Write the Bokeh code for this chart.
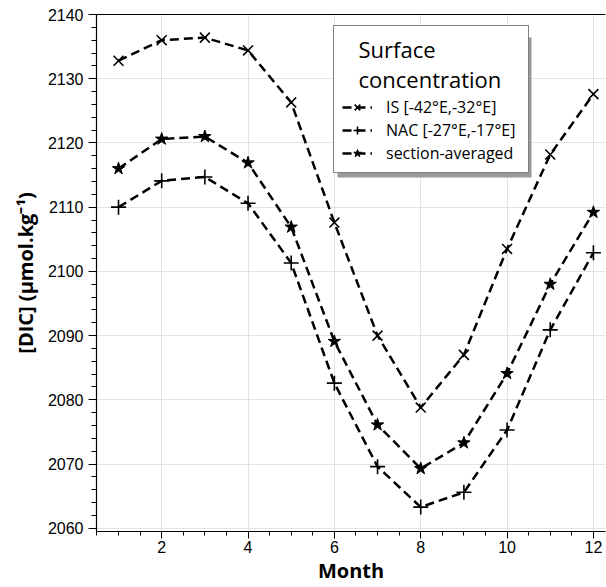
from bokeh.plotting import figure
from bokeh.models import Legend, LegendItem, LinearAxis, Range1d, BoxAnnotation, FixedTicker
from bokeh.embed import file_html
from bokeh.resources import INLINE

months = [1, 2, 3, 4, 5, 6, 7, 8, 9, 10, 11, 12]
is_vals = [2132.8, 2136.0, 2136.4, 2134.4, 2126.3, 2107.6, 2090.0, 2078.8, 2087.0, 2103.5, 2118.2, 2127.6]
nac_vals = [2110.0, 2114.1, 2114.7, 2110.6, 2101.3, 2082.6, 2069.6, 2063.3, 2065.6, 2075.3, 2090.9, 2102.9]
avg_vals = [2116.0, 2120.6, 2121.0, 2116.9, 2106.9, 2089.1, 2076.1, 2069.3, 2073.3, 2084.1, 2098.0, 2109.2]
labels = ["IS [-42°E,-32°E]", "NAC [-27°E,-17°E]", "section-averaged"]
x_major = [2, 4, 6, 8, 10, 12]
y_major = [2060, 2070, 2080, 2090, 2100, 2110, 2120, 2130, 2140]

p = figure(width=606, height=587, output_backend="svg", toolbar_location=None,
           x_range=Range1d(0.49, 12.28), y_range=Range1d(2059.5, 2140),
           min_border_left=96, min_border_top=14, min_border_right=1, min_border_bottom=56)
p.outline_line_color = None
p.background_fill_color = "white"

dash = "9 5"
lw = 2.5
r1 = p.line(months, is_vals, line_color="black", line_width=lw, line_dash=dash)
m1 = p.scatter(months, is_vals, marker="x", size=14, line_color="black", line_width=1.6)
r2 = p.line(months, nac_vals, line_color="black", line_width=lw, line_dash=dash)
m2 = p.scatter(months, nac_vals, marker="cross", size=15, line_color="black", line_width=1.6)
r3 = p.line(months, avg_vals, line_color="black", line_width=lw, line_dash=dash)
m3 = p.scatter(months, avg_vals, marker="star", size=13, line_color="black", fill_color="black")

tick_font = "Liberation Sans"
for ax in (p.xaxis[0], p.yaxis[0]):
    ax.axis_line_color = "black"
    ax.axis_line_width = 1.2
    ax.major_tick_line_color = "black"
    ax.minor_tick_line_color = "black"
    ax.major_tick_in = 0
    ax.minor_tick_in = 0
    ax.major_label_text_font = tick_font
    ax.major_label_text_font_size = "16px"
    ax.major_label_text_color = "black"
    ax.axis_label_text_font = "Open Sans"
    ax.axis_label_text_font_style = "bold"
    ax.axis_label_text_color = "black"

minor_x = [0.5 * i for i in range(1, 26) if (0.5 * i) not in x_major]
minor_y = [2060 + 2 * i for i in range(41) if (2060 + 2 * i) not in y_major]
p.xaxis.ticker = FixedTicker(ticks=x_major, minor_ticks=minor_x)
p.yaxis.ticker = FixedTicker(ticks=y_major, minor_ticks=minor_y)
p.xaxis.major_tick_out = 7
p.xaxis.minor_tick_out = 4
p.xaxis.major_label_standoff = 2
p.yaxis.major_tick_out = 8
p.yaxis.minor_tick_out = 5
p.xaxis.axis_label = "Month"
p.xaxis.axis_label_text_font_size = "20px"
p.xaxis.axis_label_standoff = 1
p.yaxis.axis_label = "[DIC] (µmol.kg⁻¹)"
p.yaxis.axis_label_text_font_size = "20px"
p.yaxis.axis_label_standoff = 6

top = LinearAxis(ticker=FixedTicker(ticks=[]), major_tick_line_color=None,
                 minor_tick_line_color=None, axis_line_color="black", axis_line_width=1.2)
p.add_layout(top, "above")

p.xgrid.grid_line_color = "#e3e3e3"
p.ygrid.grid_line_color = "#e3e3e3"

shadow = BoxAnnotation(left=241, right=435, top=494, bottom=354,
                       left_units="screen", right_units="screen", top_units="screen", bottom_units="screen",
                       fill_color="#999999", fill_alpha=1.0, line_color=None)
p.add_layout(shadow)

legend = Legend(items=[LegendItem(label=labels[0], renderers=[r1, m1]),
                       LegendItem(label=labels[1], renderers=[r2, m2]),
                       LegendItem(label=labels[2], renderers=[r3, m3])],
                location=(237, 358))
legend.title = "\u2002\u2005Surface\n\u2002\u2005concentration"
legend.title_text_font = "Open Sans"
legend.title_text_font_size = "22px"
legend.title_text_font_style = "normal"
legend.title_text_color = "black"
legend.label_text_font = "Open Sans"
legend.label_text_font_size = "16px"
legend.label_text_color = "black"
legend.border_line_color = "black"
legend.border_line_width = 1.2
legend.background_fill_alpha = 1.0
legend.glyph_width = 30
legend.label_standoff = 14
legend.label_width = 134
legend.spacing = 1
legend.padding = 8
legend.title_standoff = 2
p.add_layout(legend)

open("out.html", "w").write(file_html(p, INLINE))
